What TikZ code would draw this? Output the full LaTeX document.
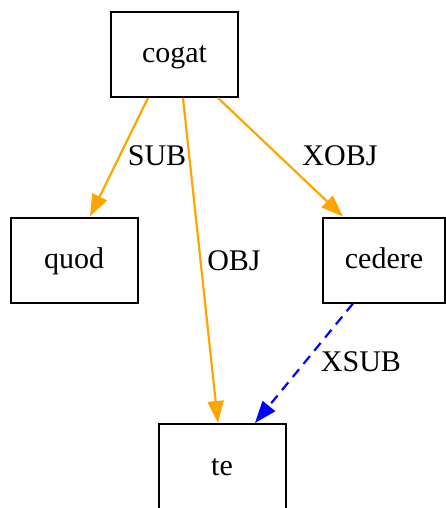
\documentclass[tikz,border=0pt]{standalone}
\usepackage{fontspec}
\setmainfont{Liberation Serif}
\usepackage{tikz}
\usetikzlibrary{arrows.meta,calc,positioning}
\definecolor{edgeorange}{RGB}{255,165,0}

\begin{document}
\begin{tikzpicture}[x=1pt,y=-1pt,font=\fontsize{30}{36}\selectfont,
	word/.style={draw,line width=2pt,minimum width=127pt,minimum height=85pt,inner sep=0pt,text height=18pt,text depth=1pt},
	lbl/.style={inner sep=0pt},
	dep/.style={edgeorange,line width=2.2pt,-{Triangle[length=22pt,width=16pt]}},
	xdep/.style={blue,line width=2.2pt,dash pattern=on 10pt off 7pt,-{Triangle[length=22pt,width=16pt]}}]
	\useasboundingbox (0,0) rectangle (446,508);

	\node[word] (cogat) at (174.5,54.5) {cogat};
	\node[word] (quod) at (74,260) {quod};
	\node[word,minimum width=122pt] (cedere) at (384,260) {cedere};
	\node[word] (te) at (222,466.5) {te};

	\draw[dep] ([xshift=-26.5pt]cogat.south) -- ([xshift=16pt]quod.north);
	\draw[dep] ([xshift=8.5pt]cogat.south) -- ([xshift=-4pt]te.north);
	\draw[dep] ([xshift=43.5pt]cogat.south) -- ([xshift=-41pt]cedere.north);
	\draw[xdep] ([xshift=-31pt]cedere.south) -- ([xshift=33pt]te.north);

	\node[lbl] (lsub) at (157,156) {SUB};
	\node[lbl] (lobj) at (234,261) {OBJ};
	\node[lbl] (lxobj) at (340,156) {XOBJ};
	\node[lbl] (lxsub) at (361,362) {XSUB};
\end{tikzpicture}
\end{document}
